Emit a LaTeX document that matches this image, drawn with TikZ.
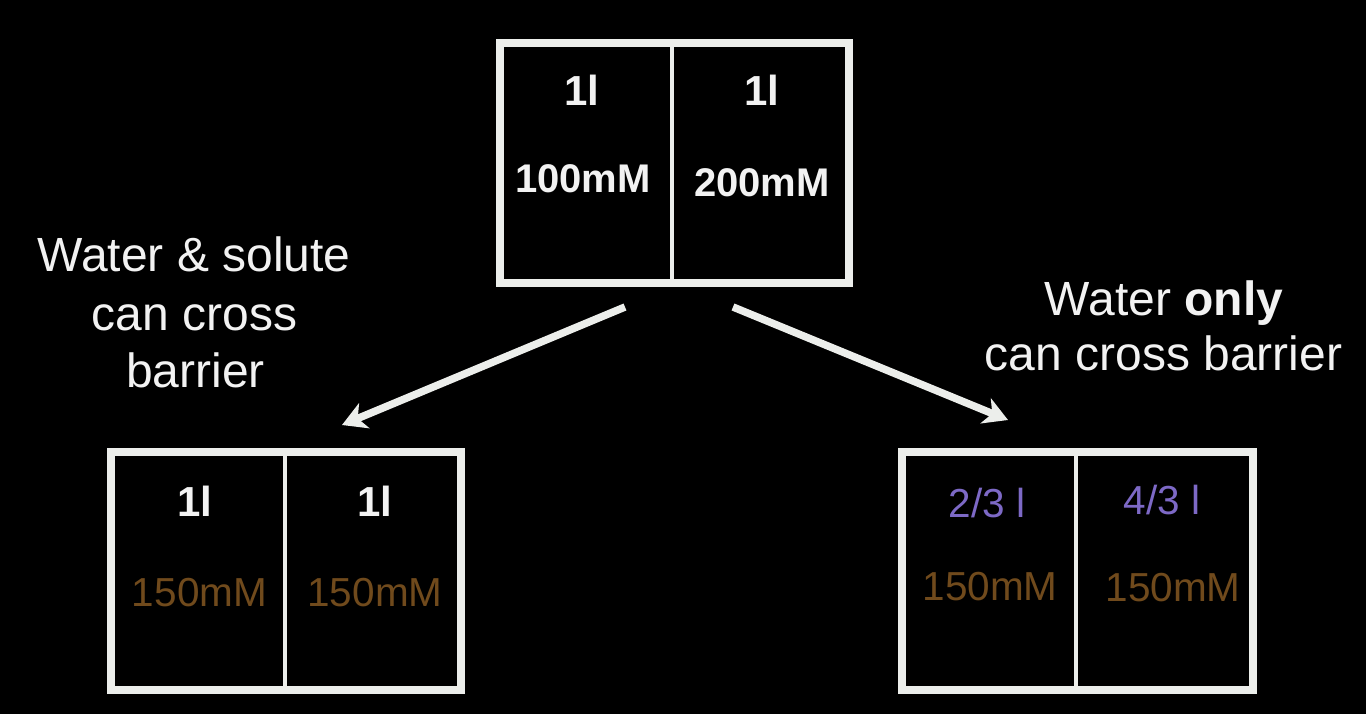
\documentclass[tikz,border=0pt]{standalone}
\usepackage{fontspec}
\setmainfont{Liberation Sans}
\usetikzlibrary{arrows.meta}
\definecolor{framecol}{HTML}{ECEEEB}
\definecolor{txtcol}{HTML}{F2F2F2}
\definecolor{browncol}{HTML}{704A1C}
\definecolor{purplecol}{HTML}{7D69C6}
\tikzset{
  frame/.style={draw=framecol, line width=8pt, fill=black, inner sep=0pt, outer sep=0pt},
  divider/.style={draw=framecol, line width=3.5pt},
  vol/.style={text=txtcol, font=\fontsize{42}{50}\selectfont\bfseries, anchor=base, inner sep=0pt},
  conc/.style={text=txtcol, font=\fontsize{40}{48}\selectfont\bfseries, anchor=base, inner sep=0pt},
  concb/.style={text=browncol, font=\fontsize{40.5}{48}\selectfont, anchor=base, inner sep=0pt},
  volp/.style={text=purplecol, font=\fontsize{40.5}{48}\selectfont, anchor=base, inner sep=0pt},
  caption/.style={text=txtcol, font=\fontsize{48}{56}\selectfont, anchor=base, inner sep=0pt},
  arrowline/.style={draw=framecol, line width=7.5pt, -{Stealth[length=24pt,width=27pt,inset=7pt]}}
}
\begin{document}
\begin{tikzpicture}[x=1pt,y=-1pt]
\fill[black] (0,0) rectangle (1366,714);
\useasboundingbox (0,0) rectangle (1366,714);

% top box
\node[frame, minimum width=349pt, minimum height=240pt] (top) at (674.5,163) {};
\coordinate (topdivA) at (672,43);
\coordinate (topdivB) at (672,283);
\draw[divider] (topdivA) -- (topdivB);
\node[vol] (t1) at (582,106) {1l};
\node[vol] (t2) at (762,106) {1l};
\node[conc] (t3) at (583,193) {100mM};
\node[conc] (t4) at (762,197) {200mM};

% bottom-left box
\node[frame, minimum width=350pt, minimum height=238pt] (bl) at (286,571) {};
\coordinate (bldivA) at (285,452);
\coordinate (bldivB) at (285,690);
\draw[divider] (bldivA) -- (bldivB);
\node[vol] (b1) at (195,516) {1l};
\node[vol] (b2) at (375,516) {1l};
\node[concb] (b3) at (199.5,606) {150mM};
\node[concb] (b4) at (375,606) {150mM};

% bottom-right box
\node[frame, minimum width=351pt, minimum height=238pt] (br) at (1077.5,571) {};
\coordinate (brdivA) at (1076,452);
\coordinate (brdivB) at (1076,690);
\draw[divider] (brdivA) -- (brdivB);
\node[volp] (r1) at (987,517) {2/3 l};
\node[volp] (r2) at (1162,514) {4/3 l};
\node[concb] (r3) at (990,600) {150mM};
\node[concb] (r4) at (1173,601) {150mM};

% captions
\node[caption] (l1) at (194,272) {Water \& solute};
\node[caption] (l2) at (194.5,330) {can cross};
\node[caption] (l3) at (195.5,387) {barrier};
\node[caption] (q1) at (1164,315) {Water \textbf{only}};
\node[caption] (q2) at (1163.5,370) {can cross barrier};

% arrows
\coordinate (aLs) at (625,307);
\coordinate (aLe) at (342,425);
\coordinate (aRs) at (733,307);
\coordinate (aRe) at (1008,420);
\draw[arrowline] (aLs) -- (aLe);
\draw[arrowline] (aRs) -- (aRe);
\end{tikzpicture}
\end{document}
